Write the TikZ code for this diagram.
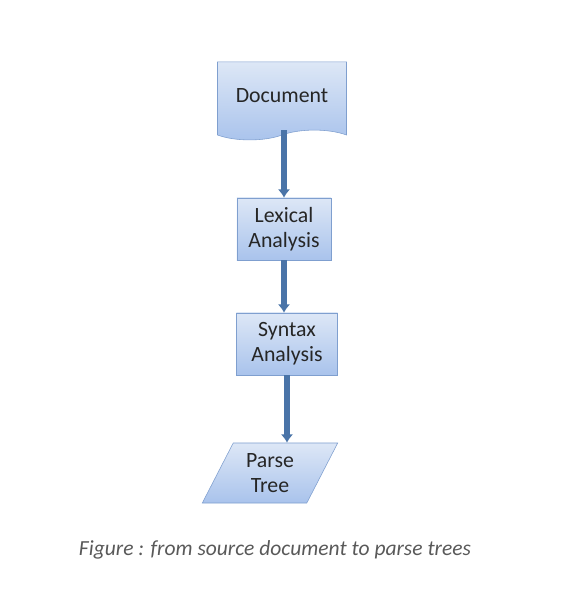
\documentclass[tikz,border=0pt]{standalone}
\usepackage{fontspec}
\setmainfont{Carlito}
\usepackage{tikz}
\usetikzlibrary{arrows.meta,shapes.geometric,shapes.symbols}

\definecolor{boxtop}{HTML}{DDE7F6}
\definecolor{boxbot}{HTML}{A9C3EC}
\definecolor{boxline}{HTML}{7F9FCF}
\definecolor{flowarrow}{HTML}{4A74A8}
\definecolor{capgray}{HTML}{595959}

\begin{document}
\begin{tikzpicture}[x=0.025cm,y=-0.025cm,
  stage/.style={draw=boxline, top color=boxtop, bottom color=boxbot,
    text=black!85, font=\fontsize{15.5}{18}\selectfont, align=center, inner sep=0pt},
  flow/.style={flowarrow, line width=3.6pt, -{Latex[length=6pt,width=9pt]}}]
  %uncomment to see the pixel frame:
  %\draw[dotted,step=50,black,very thin] (0,0) grid (565,589);
  \useasboundingbox (0,0) rectangle (565,589);

  % source document
  \node[stage, tape, tape bend top=none, tape bend height=7pt,
    minimum width=3.225cm, minimum height=1.95cm] (doc) at (282,96) {Document};

  % analysis steps
  \node[stage, rectangle, minimum width=2.35cm, minimum height=1.55cm] (lex) at (284,229) {Lexical\\Analysis};
  \node[stage, rectangle, minimum width=2.525cm, minimum height=1.55cm] (syn) at (287,344) {Syntax\\Analysis};

  % parse tree
  \node[stage, trapezium, trapezium left angle=63, trapezium right angle=117,
    trapezium stretches=true, minimum width=3.4cm, minimum height=1.5cm] (tree) at (270,473) {Parse\\Tree};

  % arrows
  \draw[flow] (doc.south -| lex.north) -- (lex.north);
  \draw[flow] (lex.south) -- (lex.south |- syn.north);
  \draw[flow] (syn.south) -- (syn.south |- tree.north);

  % caption
  \node[capgray, font=\fontsize{15.3}{17}\selectfont\itshape] (cap) at (275,550) {Figure : from source document to parse trees};
\end{tikzpicture}
\end{document}
